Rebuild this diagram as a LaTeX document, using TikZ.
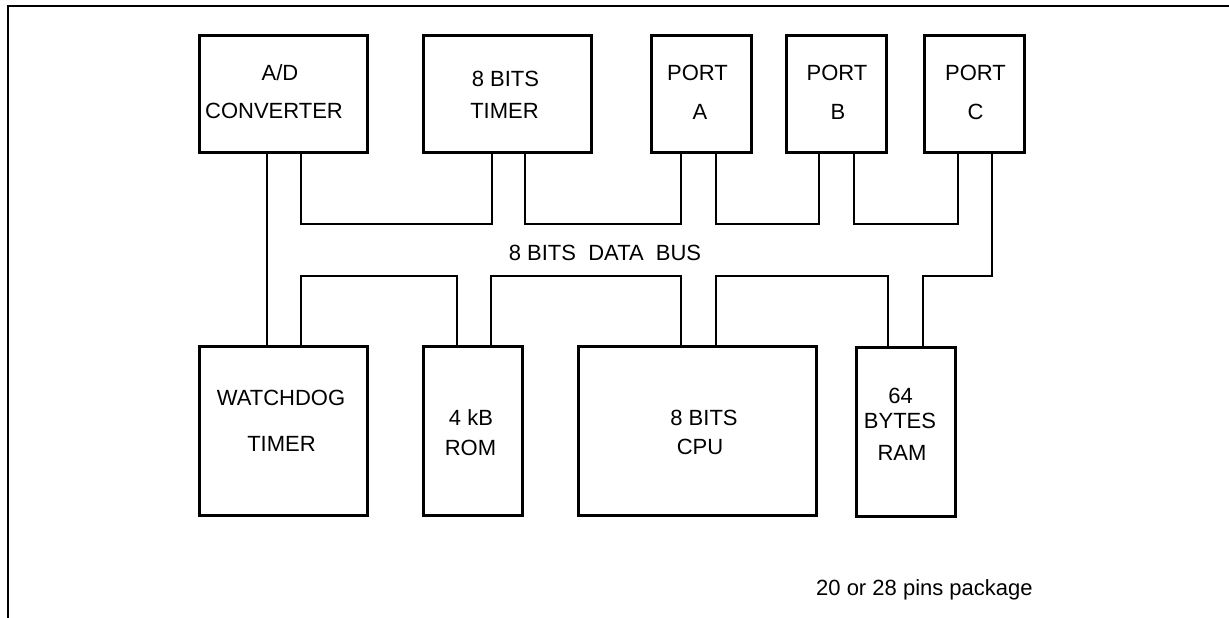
\documentclass[tikz,border=0pt]{standalone}
\usepackage{fontspec}
\setmainfont{Liberation Sans}
\begin{document}
\begin{tikzpicture}[x=1pt,y=-1pt,
  box/.style={draw, rectangle, line width=3pt, inner sep=0pt, outer sep=0pt},
  wire/.style={line width=2.6pt},
  txt/.style={font=\fontsize{22}{26}\selectfont, inner sep=0pt, anchor=base}]
\useasboundingbox (0,0) rectangle (1229,618);
\draw[line width=2pt] (1229,6) -- (8,6) -- (8,618);
% boxes
\node[box, minimum width=168pt, minimum height=117pt] (ad) at (283.5,94) {};
\node[box, minimum width=168pt, minimum height=117pt] (tm) at (507.5,94) {};
\node[box, minimum width=100pt, minimum height=117pt] (pa) at (701.5,94) {};
\node[box, minimum width=100pt, minimum height=117pt] (pb) at (836.5,94) {};
\node[box, minimum width=100pt, minimum height=117pt] (pc) at (974.5,94) {};
\node[box, minimum width=168pt, minimum height=169pt] (wd) at (283.5,431) {};
\node[box, minimum width=99pt, minimum height=169pt] (rom) at (473,431) {};
\node[box, minimum width=238pt, minimum height=169pt] (cpu) at (697.5,431) {};
\node[box, minimum width=99pt, minimum height=169pt] (ram) at (906,432) {};
% texts
\node[txt] (ad1) at (280,81) {A/D};
\node[txt] (ad2) at (274,118) {CONVERTER};
\node[txt] (tm1) at (505.5,87) {8 BITS};
\node[txt] (tm2) at (504.5,118) {TIMER};
\node[txt] (pa1) at (697.5,81) {PORT};
\node[txt] (pa2) at (700,119) {A};
\node[txt] (pb1) at (837,81) {PORT};
\node[txt] (pb2) at (838,119) {B};
\node[txt] (pc1) at (975.5,81) {PORT};
\node[txt] (pc2) at (975.5,119) {C};
\node[txt] (wd1) at (281,405) {WATCHDOG};
\node[txt] (wd2) at (281.5,451) {TIMER};
\node[txt] (rom1) at (471,425) {4 kB};
\node[txt] (rom2) at (470.5,455) {ROM};
\node[txt] (cpu1) at (704,425) {8 BITS};
\node[txt] (cpu2) at (700,454) {CPU};
\node[txt] (ram1) at (900.5,403) {64};
\node[txt] (ram2) at (900,428) {BYTES};
\node[txt] (ram3) at (902,460) {RAM};
\node[txt] (bus) at (605,260) {8 BITS\ \ DATA\ \ BUS};
\node[txt, anchor=base west] (pkg) at (816,595) {20 or 28 pins package};
% wires
\draw[wire] (ad.south -| 267,0) -- (wd.north -| 267,0);
\draw[wire] (ad.south -| 301,0) |- (492,224) -- (tm.south -| 492,0);
\draw[wire] (tm.south -| 525,0) |- (681,224) -- (pa.south -| 681,0);
\draw[wire] (pa.south -| 716,0) |- (819,224) -- (pb.south -| 819,0);
\draw[wire] (pb.south -| 854,0) |- (958,224) -- (pc.south -| 958,0);
\draw[wire] (pc.south -| 992,0) |- (923,276) -- (ram.north -| 923,0);
\draw[wire] (ram.north -| 888,0) |- (716,276) -- (cpu.north -| 716,0);
\draw[wire] (cpu.north -| 681,0) |- (491,276) -- (rom.north -| 491,0);
\draw[wire] (rom.north -| 457,0) |- (301,276) -- (wd.north -| 301,0);
\end{tikzpicture}
\end{document}
